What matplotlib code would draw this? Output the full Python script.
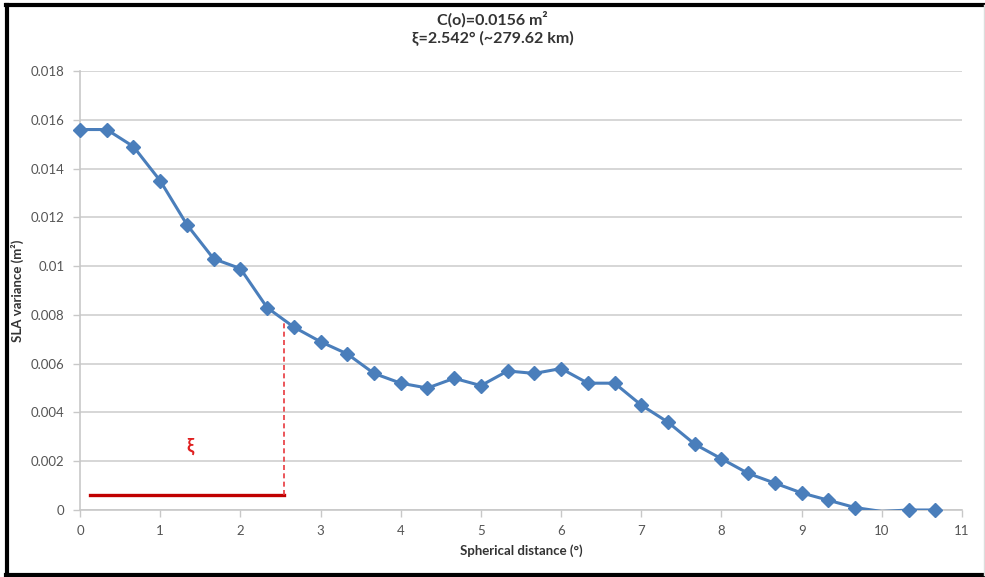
import matplotlib
matplotlib.use("Agg")
import matplotlib.pyplot as plt
from matplotlib.lines import Line2D
import numpy as np

plt.rcParams['font.family'] = ['Lato', 'DejaVu Sans']

# Data
distance = [0, 1/3, 2/3, 1, 4/3, 5/3, 2, 7/3, 8/3, 3, 10/3, 11/3, 4, 13/3, 14/3, 5,
            16/3, 17/3, 6, 19/3, 20/3, 7, 22/3, 23/3, 8, 25/3, 26/3, 9, 28/3, 29/3,
            10, 31/3, 32/3]
variance = [0.0156, 0.0156, 0.0149, 0.0135, 0.0117, 0.0103, 0.0099, 0.0083, 0.0075,
            0.0069, 0.0064, 0.0056, 0.0052, 0.0050, 0.0054, 0.0051, 0.0057, 0.0056,
            0.0058, 0.0052, 0.0052, 0.0043, 0.0036, 0.0027, 0.0021, 0.0015, 0.0011,
            0.0007, 0.0004, 0.0001, -0.00006, 0.0000, 0.0000]
xi = 2.542
xi_bar_start = 0.12
xi_bar_y = 0.0006
xi_top = 0.0077
xticks = list(range(0, 12))
yticks = [0, 0.002, 0.004, 0.006, 0.008, 0.01, 0.012, 0.014, 0.016, 0.018]
ytick_labels = ['0', '0.002', '0.004', '0.006', '0.008', '0.01', '0.012', '0.014', '0.016', '0.018']

fig = plt.figure(figsize=(9.85, 5.77), dpi=100)
ax = fig.add_axes([80/985, 1-510/577, 882/985, 439/577])

blue = '#4a7ebb'
ax.plot(distance, variance, color=blue, lw=2.2, zorder=3)
# markers (those inside the visible range are drawn unclipped, like Excel)
vis = [(d, v) for d, v in zip(distance, variance) if v >= 0]
ax.plot([d for d, v in vis], [v for d, v in vis], ls='none', marker='D', ms=7,
        markerfacecolor=blue, markeredgecolor=blue, zorder=4, clip_on=False)

ax.plot([xi_bar_start, xi], [xi_bar_y, xi_bar_y], color='#c00000', lw=2.4, zorder=2)
ax.plot([xi, xi], [xi_bar_y, xi_top], color='#e8383d', lw=1.2, ls=(0, (3, 2)), zorder=2)
ax.text(1.37, 0.0026, 'ξ', color='#e02020', fontsize=13, fontweight='bold',
        ha='center', va='center')

ax.set_xlim(0, 11)
ax.set_ylim(0, 0.018)
ax.set_xticks(xticks)
ax.set_yticks(yticks)
ax.set_yticklabels(ytick_labels)
ax.grid(axis='y', color='#d0d0d0', lw=1.2)
ax.set_axisbelow(True)
for s in ['top', 'right']:
    ax.spines[s].set_visible(False)
for s in ['left', 'bottom']:
    ax.spines[s].set_color('#c8c8c8')
    ax.spines[s].set_linewidth(1.2)
ax.tick_params(axis='both', colors='#c8c8c8', labelcolor='#555555', labelsize=9.5,
               length=5, width=1)
ax.tick_params(axis='x', pad=6)
ax.tick_params(axis='y', pad=6)

ax.set_xlabel('Spherical distance (°)', fontsize=9.5, fontweight='bold', color='#333333', labelpad=5)
ax.set_ylabel('SLA variance (m²)', fontsize=9.5, fontweight='bold', color='#333333')
ax.yaxis.set_label_coords(-0.064, 0.5)

fig.text(0.5, 1-19/577, 'C(o)=0.0156 m²', ha='center', va='center',
         fontsize=11.5, fontweight='bold', color='#333333')
fig.text(0.5, 1-38/577, 'ξ=2.542° (~279.62 km)', ha='center', va='center',
         fontsize=11.5, fontweight='bold', color='#333333')

# border
fig.add_artist(Line2D([7/985, 7/985], [1-5/577, 1-575/577], color='black', lw=3, transform=fig.transFigure))
fig.add_artist(Line2D([6/985, 985/985], [1-5/577, 1-5/577], color='black', lw=3, transform=fig.transFigure))
fig.add_artist(Line2D([6/985, 985/985], [1-575/577, 1-575/577], color='black', lw=3, transform=fig.transFigure))
fig.add_artist(Line2D([984/985, 984/985], [1-5/577, 1-575/577], color='#dddddd', lw=1, transform=fig.transFigure))

fig.savefig('out.png', dpi=100)
